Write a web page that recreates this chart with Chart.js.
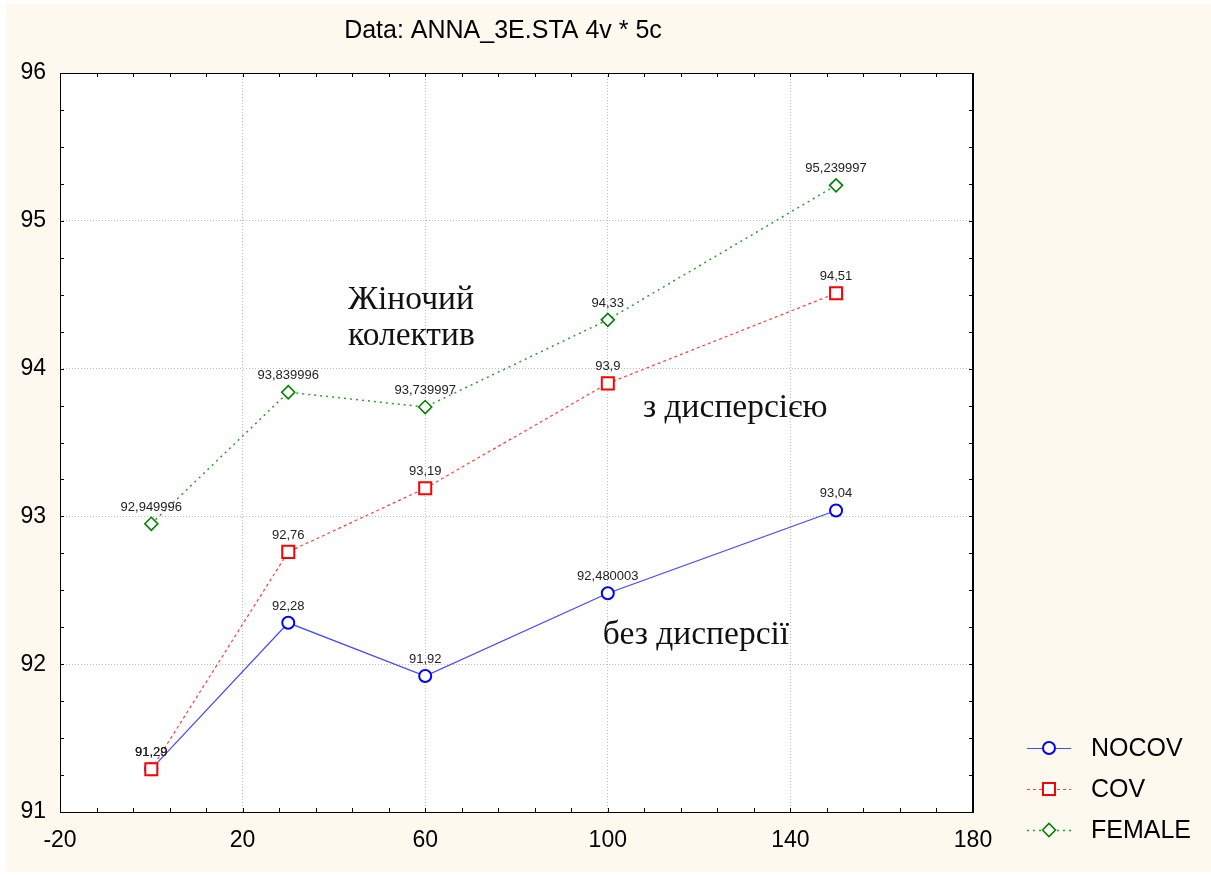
<!DOCTYPE html>
<html>
<head>
<meta charset="utf-8">
<script src="https://cdn.jsdelivr.net/npm/chart.js@4.4.0/dist/chart.umd.min.js"></script>
<style>
  html, body { margin: 0; padding: 0; background: #fff; }
  #wrap { width: 1211px; height: 875px; }
</style>
</head>
<body>
<div id="wrap"><canvas id="chart" width="1211" height="875"></canvas></div>
<script>
// --- data ---
const xValues = [0, 30, 60, 100, 150];
const nocov = [91.29, 92.28, 91.92, 92.480003, 93.04];
const cov = [91.29, 92.76, 93.19, 93.9, 94.51];
const female = [92.949996, 93.839996, 93.739997, 94.33, 95.239997];
const seriesNames = ['NOCOV', 'COV', 'FEMALE'];
const xTickLabels = [-20, 20, 60, 100, 140, 180];
const yTickLabels = [91, 92, 93, 94, 95, 96];
const titleText = 'Data: ANNA_3E.STA 4v * 5c';

// text notes inside the plot (in data units)
const notes = [
  { text: 'Жіночий', x: 43.1, y: 94.40 },
  { text: 'колектив', x: 43.1, y: 94.16 },
  { text: 'з дисперсією', x: 107.7, y: 93.67 },
  { text: 'без дисперсії', x: 98.9, y: 92.14 }
];

const SANS = '"Liberation Sans", Arial, sans-serif';
const SERIF = '"Liberation Serif", "Times New Roman", serif';

function pts(ys) { return xValues.map((x, i) => ({ x: x, y: ys[i] })); }
function fmt(v) { return String(v).replace('.', ','); }

// фон: кремова рамка + біла область графіка
const background = {
  id: 'background',
  beforeDraw(chart) {
    const { ctx, chartArea: a } = chart;
    ctx.save();
    ctx.fillStyle = '#ffffff';
    ctx.fillRect(0, 0, chart.width, chart.height);
    ctx.fillStyle = '#fdf9ef';
    ctx.fillRect(6, 4, chart.width - 6, 868);
    ctx.fillStyle = '#ffffff';
    ctx.fillRect(a.left, a.top, a.right - a.left, a.bottom - a.top);
    ctx.restore();
  }
};

// рамка і дрібні засічки всередину
const frame = {
  id: 'frame',
  beforeDatasetsDraw(chart) {
    const { ctx, chartArea: a, scales } = chart;
    ctx.save();
    ctx.strokeStyle = '#000';
    ctx.lineWidth = 1;
    ctx.beginPath();
    for (let v = -20; v <= 180; v += 8) {
      const px = Math.round(scales.x.getPixelForValue(v)) + 0.5;
      ctx.moveTo(px, a.bottom); ctx.lineTo(px, a.bottom - 4);
      ctx.moveTo(px, a.top); ctx.lineTo(px, a.top + 4);
    }
    for (let v = 91; v <= 96; v += 0.25) {
      const py = Math.round(scales.y.getPixelForValue(v)) + 0.5;
      ctx.moveTo(a.left, py); ctx.lineTo(a.left + 4, py);
      ctx.moveTo(a.right, py); ctx.lineTo(a.right - 4, py);
    }
    ctx.stroke();
    ctx.strokeRect(a.left + 0.5, a.top + 0.5, a.right - a.left, a.bottom - a.top);
    ctx.lineWidth = 2;
    ctx.beginPath();
    ctx.moveTo(a.right, a.top); ctx.lineTo(a.right, a.bottom + 1);
    ctx.stroke();
    ctx.restore();
  }
};

// підписи значень над точками, заголовок, текстові примітки, легенда
const extras = {
  id: 'extras',
  afterDatasetsDraw(chart) {
    const { ctx, scales } = chart;
    ctx.save();
    ctx.font = '13px ' + SANS;
    ctx.fillStyle = '#222';
    ctx.textAlign = 'center';
    ctx.textBaseline = 'alphabetic';
    chart.data.datasets.forEach((ds, di) => {
      chart.getDatasetMeta(di).data.forEach((p, i) => {
        ctx.fillText(fmt(ds.data[i].y), p.x, p.y - 13);
      });
    });

    ctx.font = '33.5px ' + SERIF;
    ctx.fillStyle = '#111';
    ctx.textAlign = 'left';
    notes.forEach(n => {
      ctx.fillText(n.text, scales.x.getPixelForValue(n.x), scales.y.getPixelForValue(n.y));
    });

    ctx.font = '25px ' + SANS;
    ctx.fillStyle = '#000';
    ctx.textAlign = 'center';
    ctx.textBaseline = 'middle';
    ctx.fillText(titleText, 503, 31);

    // легенда
    ctx.textAlign = 'left';
    chart.data.datasets.forEach((ds, i) => {
      const y = 748 + i * 41;
      ctx.save();
      ctx.strokeStyle = ds.borderColor;
      ctx.lineWidth = ds.borderWidth;
      ctx.setLineDash(ds.borderDash || []);
      ctx.beginPath();
      ctx.moveTo(1027, y + 0.5); ctx.lineTo(1071, y + 0.5);
      ctx.stroke();
      ctx.restore();
      ctx.save();
      ctx.fillStyle = '#fff';
      ctx.strokeStyle = ds.pointBorderColor;
      ctx.lineWidth = ds.pointBorderWidth;
      Chart.helpers.drawPoint(ctx, { pointStyle: ds.pointStyle, radius: ds.pointRadius, rotation: 0, borderWidth: ds.pointBorderWidth }, 1049, y);
      ctx.restore();
      ctx.fillStyle = '#000';
      ctx.fillText(ds.label, 1091, y + 1);
    });
    ctx.restore();
  }
};

new Chart(document.getElementById('chart'), {
  type: 'scatter',
  data: {
    datasets: [
      {
        label: seriesNames[0], data: pts(nocov), showLine: true, order: 2,
        borderColor: '#4646ff', borderWidth: 1.2,
        pointStyle: 'circle', pointRadius: 6, pointBorderWidth: 2,
        pointBorderColor: '#0000ff', pointBackgroundColor: '#ffffff'
      },
      {
        label: seriesNames[1], data: pts(cov), showLine: true, order: 1,
        borderColor: '#ff3c3c', borderWidth: 1.2, borderDash: [3, 3],
        pointStyle: 'rect', pointRadius: 8.5, pointBorderWidth: 2,
        pointBorderColor: '#ff0000', pointBackgroundColor: '#ffffff'
      },
      {
        label: seriesNames[2], data: pts(female), showLine: true, order: 0,
        borderColor: '#2f9a2f', borderWidth: 1.5, borderDash: [2, 4],
        pointStyle: 'rectRot', pointRadius: 6.5, pointBorderWidth: 1.6,
        pointBorderColor: '#008000', pointBackgroundColor: '#ffffff'
      }
    ]
  },
  options: {
    responsive: false,
    animation: false,
    devicePixelRatio: 1,
    layout: { padding: { top: 73, right: 238, left: 0, bottom: 0 } },
    plugins: { legend: { display: false }, tooltip: { enabled: false } },
    scales: {
      x: {
        type: 'linear', min: -20, max: 180,
        afterBuildTicks: s => { s.ticks = xTickLabels.map(v => ({ value: v })); },
        afterFit: s => { s.height = 63; },
        ticks: { font: { family: SANS, size: 23 }, color: '#000', padding: 15, maxRotation: 0 },
        grid: {
          drawTicks: false,
          lineWidth: 1,
          color: c => (c.tick && c.tick.value > -20 && c.tick.value < 180) ? '#bcbcbc' : 'rgba(0,0,0,0)'
        },
        border: { display: false, dash: [1, 2] }
      },
      y: {
        type: 'linear', min: 91, max: 96,
        afterBuildTicks: s => { s.ticks = yTickLabels.map(v => ({ value: v })); },
        afterFit: s => { s.width = 60; },
        ticks: { font: { family: SANS, size: 23 }, color: '#000', padding: 14 },
        grid: {
          drawTicks: false,
          lineWidth: 1,
          color: c => (c.tick && c.tick.value > 91 && c.tick.value < 96) ? '#bcbcbc' : 'rgba(0,0,0,0)'
        },
        border: { display: false, dash: [1, 2] }
      }
    }
  },
  plugins: [background, frame, extras]
});
</script>
</body>
</html>
